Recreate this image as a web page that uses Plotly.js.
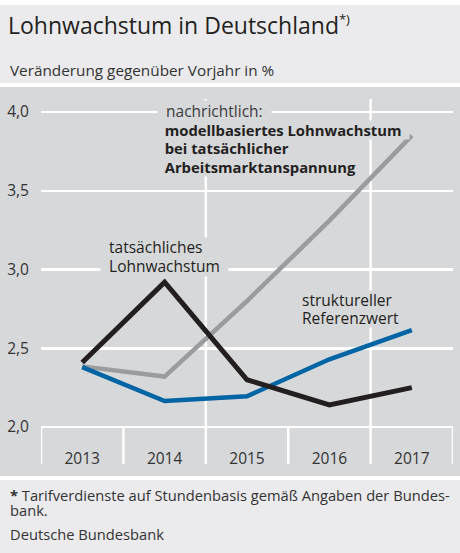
<!DOCTYPE html>
<html>
<head>
<meta charset="utf-8">
<script src="https://cdn.plot.ly/plotly-3.0.1.min.js"></script>
<style>html,body{margin:0;padding:0;background:#fff;}#chart{width:460px;height:553px;}</style>
</head>
<body>
<div id="chart"></div>
<script>
// ---- data ----
const years = ['2013', '2014', '2015', '2016', '2017'];
const tatsaechlichesLohnwachstum = [2.41, 2.92, 2.30, 2.14, 2.25];
const strukturellerReferenzwert = [2.38, 2.165, 2.195, 2.43, 2.615];
const modellbasiertesLohnwachstum = [2.385, 2.32, 2.80, 3.31, 3.85];
const yTickValues = [2.0, 2.5, 3.0, 3.5, 4.0];

// ---- layout helpers (pixel -> paper) ----
const W = 460, H = 553;
const L = 41, R = 7, T = 99, B = 553 - 464;
const PW = W - L - R, PH = H - T - B;
const PX = x => (x - L) / PW;
const PY = y => (H - B - y) / PH;
const FONT = 'Open Sans, DejaVu Sans, sans-serif';
const BAND = '#d7d8da';
const LIGHT = '#ebebed';
const NB = '\u00a0\u00a0';
const PXPERUNIT = 157.5;
const yBottom = 2.0 - (464 - 427) / PXPERUNIT;
const yTop = 2.0 + (427 - 99) / PXPERUNIT;

// one boxed text line (box hides grid lines behind the label, like the original)
function label(text, left, baseline, size, color, bold, h) {
  const t = NB + text + NB;
  return {
    text: bold ? '<b>' + t + '</b>' : t, xref: 'paper', yref: 'paper',
    x: PX(left - 8), y: PY(baseline - 0.388 * size),
    xanchor: 'left', yanchor: 'middle', showarrow: false, align: 'left',
    font: {family: FONT, size: size, color: color},
    bgcolor: BAND, borderpad: 0, height: h
  };
}
function plain(text, left, baseline, size, color) {
  return {
    text: text, xref: 'paper', yref: 'paper',
    x: PX(left), y: PY(baseline - 0.388 * size),
    xanchor: 'left', yanchor: 'middle', showarrow: false, align: 'left',
    font: {family: FONT, size: size, color: color}
  };
}

const traces = [
  {x: years, y: modellbasiertesLohnwachstum, type: 'scatter', mode: 'lines',
   line: {color: '#9b9c9e', width: 4.5}, hoverinfo: 'skip'},
  {x: years, y: strukturellerReferenzwert, type: 'scatter', mode: 'lines',
   line: {color: '#0064a5', width: 4.5}, hoverinfo: 'skip'},
  {x: years, y: tatsaechlichesLohnwachstum, type: 'scatter', mode: 'lines',
   line: {color: '#231f20', width: 5}, hoverinfo: 'skip'}
];

// category separators (boundaries between years)
const sepShapes = [];
for (let i = 0; i <= years.length; i++) {
  const b = i - 0.5;
  const full = (i === 2 || i === 4);
  sepShapes.push({type: 'line', xref: 'x', yref: 'y', x0: b, x1: b,
    y0: yBottom, y1: full ? yTop : 2.0,
    line: {color: '#ffffff', width: 2.5}, layer: 'below'});
}

const layout = {
  width: W, height: H,
  margin: {l: L, r: R, t: T, b: B, pad: 0},
  paper_bgcolor: '#ffffff',
  plot_bgcolor: 'rgba(0,0,0,0)',
  showlegend: false,
  separators: ',.',
  font: {family: FONT, color: '#333'},
  title: {
    text: 'Lohnwachstum in Deutschland<sup><span style="font-size:13px">*)</span></sup>',
    font: {family: FONT, size: 23, color: '#231f20'},
    x: 8 / W, xref: 'container', xanchor: 'left',
    y: 1 - 26 / H, yref: 'container', yanchor: 'middle'
  },
  xaxis: {
    type: 'category', range: [-0.5, 4.5],
    ticks: '', ticklabelstandoff: -17,
    showgrid: false, zeroline: false, showline: false,
    tickfont: {family: FONT, size: 15.5, color: '#333'}
  },
  yaxis: {
    range: [yBottom, yTop], tickvals: yTickValues, tickformat: '.1f',
    showgrid: true, gridcolor: '#ffffff', gridwidth: 2.5,
    zeroline: false, showline: false,
    ticks: 'outside', ticklen: 8, tickcolor: 'rgba(0,0,0,0)',
    tickfont: {family: FONT, size: 15.5, color: '#333'}
  },
  shapes: [
    {type: 'rect', xref: 'paper', yref: 'paper', x0: PX(0), x1: PX(W), y0: PY(5), y1: PY(83),
     fillcolor: LIGHT, line: {width: 0}, layer: 'below'},
    {type: 'rect', xref: 'paper', yref: 'paper', x0: PX(0), x1: PX(W), y0: PY(87), y1: PY(476),
     fillcolor: BAND, line: {width: 0}, layer: 'below'},
    {type: 'rect', xref: 'paper', yref: 'paper', x0: PX(0), x1: PX(W), y0: PY(480), y1: PY(553),
     fillcolor: LIGHT, line: {width: 0}, layer: 'below'}
  ].concat(sepShapes),
  annotations: [
    plain('Veränderung gegenüber Vorjahr in %', 8, 75.5, 15.3, '#333'),
    label('nachrichtlich:', 165, 116.5, 15.5, '#3c3c3c', false, 19),
    label('modellbasiertes Lohnwachstum', 164, 135.7, 14.8, '#231f20', true, 18.3),
    label('bei tatsächlicher', 164, 154, 14.8, '#231f20', true, 18.3),
    label('Arbeitsmarktanspannung', 164, 172.5, 14.8, '#231f20', true, 18.3),
    label('tatsächliches', 107.7, 254, 15.5, '#231f20', false, 18.5),
    label('Lohnwachstum', 107.7, 272.7, 15.5, '#231f20', false, 18.5),
    label('struktureller', 301, 306, 15.5, '#231f20', false, 18),
    label('Referenzwert', 301, 324, 15.5, '#231f20', false, 18),
    plain('<b>*</b> Tarifverdienste auf Stundenbasis gemäß Angaben der Bundes-', 8, 500.7, 14.7, '#333'),
    plain('bank.', 8, 516, 14.7, '#333'),
    plain('Deutsche Bundesbank', 8, 539.5, 14.7, '#333')
  ]
};

Plotly.newPlot('chart', traces, layout, {staticPlot: true, displayModeBar: false});
</script>
</body>
</html>
